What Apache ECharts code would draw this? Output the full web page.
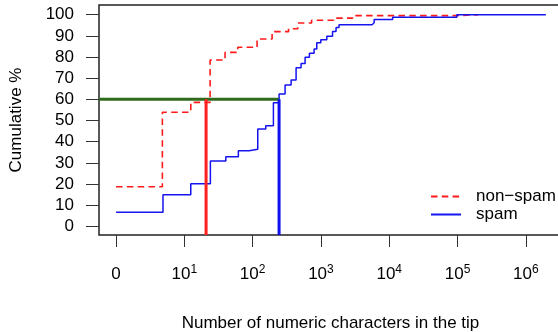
<!DOCTYPE html>
<html><head><meta charset="utf-8">
<script src="https://cdn.jsdelivr.net/npm/echarts@6/dist/echarts.min.js"></script>
<style>html,body{margin:0;padding:0;background:#fff}#c{width:558px;height:332px}</style>
</head><body><div id="c"></div>
<script>
// x values are log10(count + 1) positions as drawn on the axis
const nonSpamX = [0, 0.678, 1.094, 1.377, 1.596, 1.782, 2.065, 2.285, 2.526, 2.661, 2.863, 3.185, 3.464, 4.994, 5.302];
const nonSpamY = [18.7, 53.9, 58.6, 78.6, 82.2, 84.6, 88.5, 92.0, 93.4, 96.1, 97.4, 98.4, 99.6, 100, 100];
const spamX = [0, 0.687, 1.094, 1.381, 1.607, 1.791, 1.948, 2.075, 2.192, 2.304, 2.387, 2.475, 2.563, 2.636, 2.709, 2.768, 2.831, 2.900, 2.939, 2.998, 3.086, 3.170, 3.221, 3.265, 3.749, 3.779, 4.050, 4.990, 6.293];
const spamY = [6.6, 14.9, 20.1, 30.9, 32.9, 35.7, 36.4, 46.0, 47.5, 58.4, 62.5, 66.8, 69.1, 75.0, 77.0, 79.9, 81.8, 83.8, 86.8, 88.2, 89.8, 92.1, 94.0, 95.3, 96.2, 97.7, 98.8, 100, 100];
const xTickValues = [0, 1, 2, 3, 4, 5, 6];
const xTickBase = ['0', '10', '10', '10', '10', '10', '10'];
const xTickExp = ['', '1', '2', '3', '4', '5', '6'];
const yTickValues = [0, 10, 20, 30, 40, 50, 60, 70, 80, 90, 100];
const thresholdLevel = [60];
const crossNonSpam = [1.318];
const crossSpam = [2.387];

const X_MIN = -0.25, X_MAX = 6.53, Y_MIN = -4.1, Y_MAX = 104.6;
const FONT = 'Liberation Sans';
const zip = (a, b) => a.map((v, i) => [v, b[i]]);

const chart = echarts.init(document.getElementById('c'), null, {renderer: 'canvas'});
chart.setOption({
  animation: false,
  backgroundColor: '#fff',
  grid: {left: 99, top: 5, right: -4, bottom: 97, show: true, borderColor: '#222', borderWidth: 1.5,
         containLabel: false, outerBoundsMode: 'none'},
  legend: {
    data: ['non−spam', 'spam'], orient: 'vertical', left: 430, top: 188, padding: 0,
    itemWidth: 30, itemHeight: 17, itemGap: 1,
    itemStyle: {opacity: 0, borderWidth: 0},
    textStyle: {fontSize: 17, fontFamily: FONT, color: '#000', padding: [0, 0, 0, 10]}
  },
  xAxis: {
    type: 'value', min: X_MIN, max: X_MAX,
    splitLine: {show: false},
    axisLine: {show: false, onZero: false},
    axisTick: {show: true, customValues: xTickValues, length: 12, lineStyle: {color: '#333', width: 1}},
    axisLabel: {
      customValues: xTickValues, margin: 29,
      formatter: v => {
        const i = xTickValues.indexOf(Math.round(v));
        if (i < 0) return '';
        return xTickExp[i] ? '{b|' + xTickBase[i] + '}{s|' + xTickExp[i] + '}' : '{b|' + xTickBase[i] + '}';
      },
      rich: {
        b: {fontSize: 17, fontFamily: FONT, color: '#000', lineHeight: 20},
        s: {fontSize: 12, fontFamily: FONT, color: '#000', lineHeight: 12, verticalAlign: 'top'}
      }
    },
    name: 'Number of numeric characters in the tip', nameLocation: 'middle', nameGap: 80,
    nameTextStyle: {fontSize: 17, fontFamily: FONT, color: '#000'}
  },
  yAxis: {
    type: 'value', min: Y_MIN, max: Y_MAX,
    splitLine: {show: false},
    axisLine: {show: false, onZero: false},
    axisTick: {show: true, customValues: yTickValues, length: 13, lineStyle: {color: '#333', width: 1}},
    axisLabel: {customValues: yTickValues, margin: 25, fontSize: 17, fontFamily: FONT, color: '#000'},
    name: 'Cumulative %', nameLocation: 'middle', nameRotate: 90, nameGap: 74,
    nameTextStyle: {fontSize: 17, fontFamily: FONT, color: '#000'}
  },
  series: [
    {name: 'non−spam', type: 'line', step: 'end', symbol: 'none', data: zip(nonSpamX, nonSpamY),
     lineStyle: {color: '#ff1a1a', width: 1.6, type: [6.5, 4.3]}, itemStyle: {color: '#ff1a1a'}},
    {name: 'spam', type: 'line', step: 'end', symbol: 'none', data: zip(spamX, spamY),
     lineStyle: {color: '#1414f0', width: 1.5}, itemStyle: {color: '#1414f0'}},
    {name: 'level', type: 'line', symbol: 'none', silent: true,
     data: [[X_MIN, thresholdLevel[0]], [crossSpam[0], thresholdLevel[0]]],
     lineStyle: {color: '#2e6b1c', width: 3}},
    {name: 'nsCross', type: 'line', symbol: 'none', silent: true,
     data: [[crossNonSpam[0], Y_MIN], [crossNonSpam[0], thresholdLevel[0]]],
     lineStyle: {color: '#ff2020', width: 3}},
    {name: 'spCross', type: 'line', symbol: 'none', silent: true,
     data: [[crossSpam[0], Y_MIN], [crossSpam[0], thresholdLevel[0]]],
     lineStyle: {color: '#1010ee', width: 3}}
  ]
});
</script></body></html>
